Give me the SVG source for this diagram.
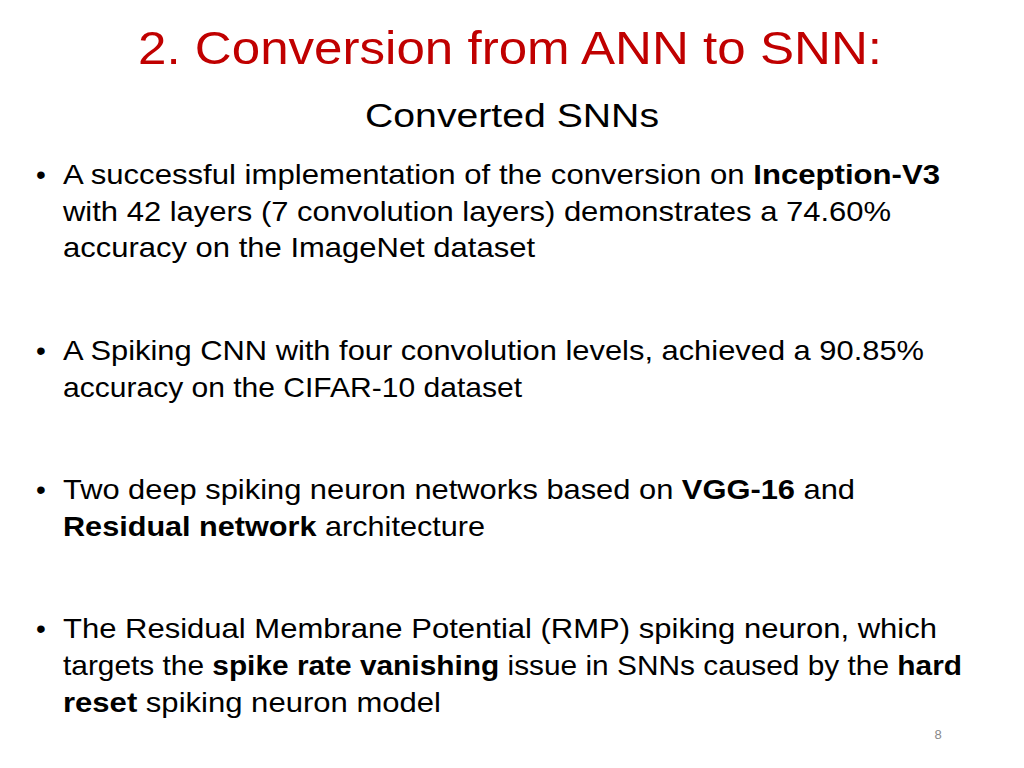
<svg xmlns="http://www.w3.org/2000/svg" width="1024" height="768" viewBox="0 0 1024 768">
<style>
.t{font-family:"Liberation Sans","Noto Sans",sans-serif;font-size:28px;fill:#000}
.b{font-weight:bold}
</style>
<rect width="1024" height="768" fill="#fff"/>
<text x="510" y="64" text-anchor="middle" font-family="Liberation Sans,sans-serif" font-size="46" fill="#C00000" textLength="744" lengthAdjust="spacingAndGlyphs">2. Conversion from ANN to SNN:</text>
<text x="512" y="127" text-anchor="middle" font-family="Liberation Sans,sans-serif" font-size="34" fill="#000" textLength="294" lengthAdjust="spacingAndGlyphs">Converted SNNs</text>
<g class="t">
<text x="36" y="184">•</text>
<text x="63" y="184" textLength="877" lengthAdjust="spacingAndGlyphs">A successful implementation of the conversion on <tspan class="b">Inception-V3</tspan></text>
<text x="63" y="221" textLength="828" lengthAdjust="spacingAndGlyphs">with 42 layers (7 convolution layers) demonstrates a 74.60%</text>
<text x="63" y="257" textLength="472" lengthAdjust="spacingAndGlyphs">accuracy on the ImageNet dataset</text>
<text x="36" y="360">•</text>
<text x="63" y="360" textLength="861" lengthAdjust="spacingAndGlyphs">A Spiking CNN with four convolution levels, achieved a 90.85%</text>
<text x="63" y="397" textLength="459" lengthAdjust="spacingAndGlyphs">accuracy on the CIFAR-10 dataset</text>
<text x="36" y="499">•</text>
<text x="63" y="499" textLength="792" lengthAdjust="spacingAndGlyphs">Two deep spiking neuron networks based on <tspan class="b">VGG-16</tspan> and</text>
<text x="63" y="536" textLength="422" lengthAdjust="spacingAndGlyphs"><tspan class="b">Residual network</tspan> architecture</text>
<text x="36" y="638">•</text>
<text x="63" y="638" textLength="874" lengthAdjust="spacingAndGlyphs">The Residual Membrane Potential (RMP) spiking neuron, which</text>
<text x="63" y="675" textLength="899" lengthAdjust="spacingAndGlyphs">targets the <tspan class="b">spike rate vanishing</tspan> issue in SNNs caused by the <tspan class="b">hard</tspan></text>
<text x="63" y="712" textLength="378" lengthAdjust="spacingAndGlyphs"><tspan class="b">reset</tspan> spiking neuron model</text>
</g>
<text x="938" y="739" text-anchor="middle" font-family="Liberation Sans,sans-serif" font-size="13" fill="#888">8</text>
</svg>
